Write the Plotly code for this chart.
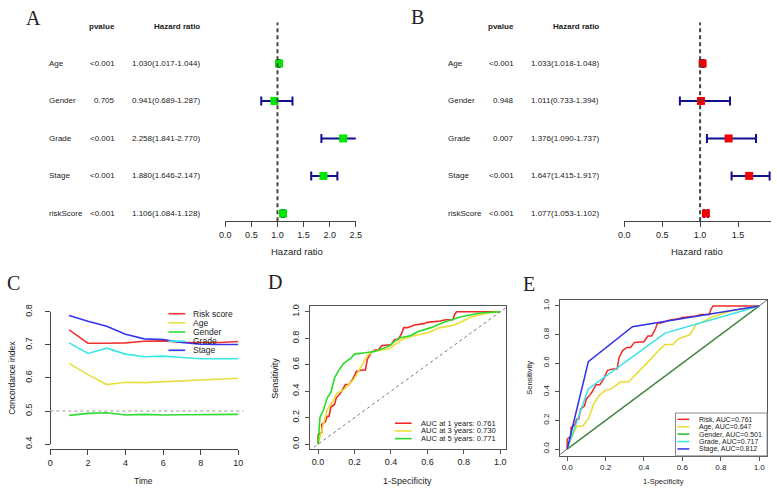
import plotly.graph_objects as go

W, H = 777, 492

# ---------------- data ----------------
factors = ["Age", "Gender", "Grade", "Stage", "riskScore"]
row_pos = [5, 4, 3, 2, 1]

uni_p = ["<0.001", "0.705", "<0.001", "<0.001", "<0.001"]
uni_hr = [1.030, 0.941, 2.258, 1.880, 1.106]
uni_lo = [1.017, 0.689, 1.841, 1.646, 1.084]
uni_hi = [1.044, 1.287, 2.770, 2.147, 1.128]

multi_p = ["<0.001", "0.948", "0.007", "<0.001", "<0.001"]
multi_hr = [1.033, 1.011, 1.376, 1.647, 1.077]
multi_lo = [1.018, 0.733, 1.090, 1.415, 1.053]
multi_hi = [1.048, 1.394, 1.737, 1.917, 1.102]

ticks_a = [0.0, 0.5, 1.0, 1.5, 2.0, 2.5]
ticks_b = [0.0, 0.5, 1.0, 1.5, 2.0]

years = [1, 2, 3, 4, 5, 6, 7, 8, 9, 10]
cidx_risk = [0.745, 0.705, 0.705, 0.706, 0.711, 0.712, 0.708, 0.707, 0.707, 0.710]
cidx_age = [0.644, 0.610, 0.580, 0.587, 0.586, 0.589, 0.592, 0.595, 0.596, 0.599]
cidx_gender = [0.487, 0.493, 0.495, 0.488, 0.490, 0.488, 0.489, 0.490, 0.490, 0.490]
cidx_grade = [0.706, 0.674, 0.690, 0.672, 0.664, 0.666, 0.662, 0.658, 0.658, 0.658]
cidx_stage = [0.789, 0.771, 0.756, 0.732, 0.718, 0.716, 0.707, 0.702, 0.701, 0.701]
c_names = ["Risk score", "Age", "Gender", "Grade", "Stage"]
c_ticks_x = [0, 2, 4, 6, 8, 10]
c_ticks_y = [0.4, 0.5, 0.6, 0.7, 0.8]

# ROC, risk score at 1 year (also used in panel E)
roc1_fpr = [0, 0, 0.02, 0.02, 0.04, 0.05, 0.06, 0.07, 0.09, 0.10, 0.12, 0.13, 0.15, 0.17,
            0.19, 0.20, 0.21, 0.24, 0.26, 0.27, 0.29, 0.31, 0.33, 0.35, 0.40, 0.42, 0.44,
            0.46, 0.47, 0.49, 0.53, 0.58, 0.60, 0.67, 0.70, 0.74, 0.75, 0.76, 1.0]
roc1_tpr = [0, 0.07, 0.09, 0.15, 0.17, 0.21, 0.21, 0.28, 0.30, 0.35, 0.38, 0.40, 0.45, 0.45,
            0.49, 0.52, 0.55, 0.56, 0.56, 0.64, 0.69, 0.71, 0.71, 0.745, 0.75, 0.79, 0.79,
            0.84, 0.88, 0.88, 0.90, 0.91, 0.92, 0.93, 0.94, 0.94, 0.98, 1.0, 1.0]
roc3_fpr = [0, 0.02, 0.05, 0.08, 0.10, 0.14, 0.19, 0.21, 0.24, 0.27, 0.30, 0.39, 0.46,
            0.53, 0.60, 0.67, 0.75, 0.84, 0.93, 1.0]
roc3_tpr = [0, 0.11, 0.26, 0.32, 0.38, 0.41, 0.48, 0.52, 0.60, 0.67, 0.70, 0.72, 0.79,
            0.82, 0.84, 0.88, 0.90, 0.96, 0.99, 1.0]
roc5_fpr = [0, 0.01, 0.03, 0.05, 0.07, 0.09, 0.11, 0.14, 0.18, 0.20, 0.26, 0.31, 0.39,
            0.44, 0.51, 0.55, 0.62, 0.69, 0.78, 0.89, 1.0]
roc5_tpr = [0, 0.20, 0.26, 0.35, 0.39, 0.50, 0.55, 0.61, 0.65, 0.68, 0.69, 0.70, 0.74,
            0.80, 0.82, 0.85, 0.88, 0.92, 0.96, 0.99, 1.0]
d_names = ["AUC at 1 years: 0.761", "AUC at 3 years: 0.730", "AUC at 5 years: 0.771"]

age_fpr = [0, 0.02, 0.05, 0.08, 0.11, 0.14, 0.17, 0.20, 0.23, 0.26, 0.28, 0.32, 0.35,
           0.38, 0.43, 0.47, 0.51, 0.55, 0.58, 0.62, 0.64, 0.67, 0.70, 0.75, 0.85, 1.0]
age_tpr = [0, 0.07, 0.16, 0.16, 0.21, 0.32, 0.38, 0.41, 0.42, 0.45, 0.47, 0.47, 0.51,
           0.55, 0.62, 0.68, 0.73, 0.73, 0.77, 0.79, 0.80, 0.87, 0.885, 0.92, 0.965, 1.0]
gender_fpr = [0, 1.0]
gender_tpr = [0, 1.0]
grade_fpr = [0, 0.11, 0.51, 1.0]
grade_tpr = [0, 0.42, 0.81, 1.0]
stage_fpr = [0, 0.11, 0.34, 1.0]
stage_tpr = [0, 0.61, 0.855, 1.0]
e_names = ["Risk, AUC=0.761", "Age, AUC=0.647", "Gender, AUC=0.501",
           "Grade, AUC=0.717", "Stage, AUC=0.812"]
roc_ticks = [0.0, 0.2, 0.4, 0.6, 0.8, 1.0]

# ---------------- helpers ----------------
FONT = "Liberation Sans, Arial, Helvetica, sans-serif"
SERIF = "Liberation Serif, Times New Roman, serif"
INK = "#222"
AXC = "#444"


def fx(p):
    return p / W


def fy(p):
    return 1 - p / H


def dom_x(a, b):
    return [a / W, b / W]


def dom_y(top, bottom):
    return [1 - bottom / H, 1 - top / H]


fig = go.Figure()
ann = []
shapes = []

# ---------------- forest plots (A, B) ----------------
GREEN = "#00E600"
RED = "#F00000"
EBAR = "#10108C"


def forest(xa, ya, hr, lo, hi, pv, color, x_label, x_p, x_hr):
    fig.add_trace(go.Scatter(
        x=hr, y=row_pos, mode="markers", xaxis=xa, yaxis=ya, showlegend=False,
        marker=dict(symbol="square", size=8, color=color),
        error_x=dict(type="data", symmetric=False,
                     array=[h - m for h, m in zip(hi, hr)],
                     arrayminus=[m - l for m, l in zip(hr, lo)],
                     color=EBAR, thickness=2, width=4.5),
        cliponaxis=False))
    for f, r, p, h, l, u in zip(factors, row_pos, pv, hr, lo, hi):
        for xpos, s, anchor in [(x_label, f, "left"), (x_p, p, "right"),
                                (x_hr, f"{h:.3f}({l:.3f}-{u:.3f})", "right")]:
            ann.append(dict(x=fx(xpos), y=r, xref="paper", yref=ya, text=s,
                            xanchor=anchor, yanchor="middle", showarrow=False,
                            font=dict(size=8, color=INK)))
    ann.append(dict(x=fx(x_p), y=fy(19), xref="paper", yref="paper", text="<b>pvalue</b>",
                    xanchor="right", yanchor="middle", showarrow=False,
                    font=dict(size=8, color=INK)))
    ann.append(dict(x=fx(x_hr), y=fy(19), xref="paper", yref="paper",
                    text="<b>Hazard ratio</b>", xanchor="right", yanchor="middle",
                    showarrow=False, font=dict(size=8, color=INK)))
    # reference line at HR = 1
    shapes.append(dict(type="line", xref=xa, yref=ya + " domain", x0=1, x1=1, y0=0, y1=1,
                       line=dict(color=AXC, width=2, dash="4px,3px")))


forest("x", "y", uni_hr, uni_lo, uni_hi, uni_p, GREEN, 42, 113, 199)
forest("x2", "y2", multi_hr, multi_lo, multi_hi, multi_p, RED, 447, 518, 604)

forest_y = dict(range=[0.792, 6.09], domain=dom_y(15, 219), visible=False, fixedrange=True)
tickfont = dict(size=9, color=INK, family=FONT)
open_axis = dict(showgrid=False, zeroline=False, showline=True, linecolor=AXC, linewidth=1,
                 ticks="outside", ticklen=5, tickcolor=AXC, tickfont=tickfont)

# ---------------- panel C ----------------
C_COLORS = ["#F03232", "#E6E040", "#30DC30", "#38E8E8", "#3434F0"]
c_series = [cidx_risk, cidx_age, cidx_gender, cidx_grade, cidx_stage]
shapes.append(dict(type="line", xref="paper", yref="y3", x0=fx(45), x1=fx(241), y0=0.5, y1=0.5,
                   line=dict(color="#BBBBBB", width=1.5, dash="dot")))
for name, vals, col in zip(c_names, c_series, C_COLORS):
    fig.add_trace(go.Scatter(x=years, y=vals, mode="lines", name=name, xaxis="x3", yaxis="y3",
                             line=dict(color=col, width=1.6), showlegend=False,
                             cliponaxis=False))
for i, (name, col) in enumerate(zip(c_names, C_COLORS)):
    yy = 314 + 9.4 * i
    shapes.append(dict(type="line", xref="paper", yref="paper", x0=fx(165), x1=fx(182),
                       y0=fy(yy), y1=fy(yy), line=dict(color=col, width=1.6)))
    ann.append(dict(x=fx(188), y=fy(yy), xref="paper", yref="paper", text=name,
                    xanchor="left", yanchor="middle", showarrow=False,
                    font=dict(size=8.5, color=INK)))

# ---------------- panel D ----------------
D_COLORS = ["#F02828", "#E8E030", "#28DC28"]
shapes.append(dict(type="line", xref="x4", yref="y4", x0=-0.05, x1=1.05, y0=-0.05, y1=1.05,
                   line=dict(color="#777", width=1, dash="dot")))
for name, xs, ys, col in zip(d_names, [roc1_fpr, roc3_fpr, roc5_fpr],
                             [roc1_tpr, roc3_tpr, roc5_tpr], D_COLORS):
    fig.add_trace(go.Scatter(x=xs, y=ys, mode="lines", name=name, xaxis="x4", yaxis="y4",
                             line=dict(color=col, width=1.6), showlegend=False))
for i, (name, col) in enumerate(zip(d_names, D_COLORS)):
    yy = 426.5 + 7.9 * i
    shapes.append(dict(type="line", xref="paper", yref="paper", x0=fx(395), x1=fx(412),
                       y0=fy(yy), y1=fy(yy), line=dict(color=col, width=1.6)))
    ann.append(dict(x=fx(419), y=fy(yy), xref="paper", yref="paper", text=name,
                    xanchor="left", yanchor="middle", showarrow=False,
                    font=dict(size=7.6, color=INK)))

# ---------------- panel E ----------------
E_COLORS = ["#F02828", "#E8DC28", "#2EB82E", "#38E0E8", "#3232E6"]
shapes.append(dict(type="line", xref="x5", yref="y5", x0=-0.05, x1=1.05, y0=-0.05, y1=1.05,
                   line=dict(color="#666", width=1)))
for name, xs, ys, col in zip(e_names,
                             [roc1_fpr, age_fpr, gender_fpr, grade_fpr, stage_fpr],
                             [roc1_tpr, age_tpr, gender_tpr, grade_tpr, stage_tpr], E_COLORS):
    fig.add_trace(go.Scatter(x=xs, y=ys, mode="lines", name=name, xaxis="x5", yaxis="y5",
                             line=dict(color=col, width=1.5), showlegend=False))
shapes.append(dict(type="rect", xref="paper", yref="paper", x0=fx(680), x1=fx(773),
                   y0=fy(460), y1=fy(416), line=dict(color="#888", width=1)))
for i, (name, col) in enumerate(zip(e_names, E_COLORS)):
    yy = 422.5 + 7.6 * i
    shapes.append(dict(type="line", xref="paper", yref="paper", x0=fx(682), x1=fx(694),
                       y0=fy(yy), y1=fy(yy), line=dict(color=col, width=1.5)))
    ann.append(dict(x=fx(702), y=fy(yy), xref="paper", yref="paper", text=name,
                    xanchor="left", yanchor="middle", showarrow=False,
                    font=dict(size=7, color=INK)))


# ---------------- titles / letters ----------------
def text(x, y, s, size, angle=0, family=FONT):
    ann.append(dict(x=fx(x), y=fy(y), xref="paper", yref="paper", text=s, textangle=angle,
                    xanchor="center", yanchor="middle", showarrow=False,
                    font=dict(size=size, color=INK, family=family)))


text(296, 250, "Hazard ratio", 9.5)
text(702, 250, "Hazard ratio", 9.5)
text(6, 380, "Concordance index", 8.5, -90)
text(140, 486, "Time", 8.5)
text(273, 380, "Sensitivity", 9, -90)
text(408, 486, "1-Specificity", 9)
text(532, 380, "Sensitivity", 7.5, -90)
text(668, 486, "1-Specificity", 7.5)
for letter, x, y in [("A", 28, 10), ("B", 418, 9), ("C", 8, 282), ("D", 273, 281), ("E", 531, 283)]:
    text(x, y, letter, 20, family=SERIF)

box = dict(showgrid=False, zeroline=False, showline=True, mirror=True, linecolor="#555",
           linewidth=1, ticks="outside", ticklen=4, tickcolor="#555")

fig.update_layout(
    width=W, height=H, margin=dict(l=0, r=0, t=0, b=0),
    paper_bgcolor="white", plot_bgcolor="white",
    font=dict(family=FONT, color=INK),
    showlegend=False,
    # A: axis line spans exactly the tick range 0..2.5
    xaxis=dict(domain=dom_x(222.7, 355.3), range=[ticks_a[0], ticks_a[-1]], anchor="y",
               tickvals=ticks_a, ticktext=[f"{t:.1f}" for t in ticks_a], **open_axis),
    yaxis=dict(anchor="x", **forest_y),
    xaxis2=dict(domain=dom_x(628, 777), range=[0, 149 / 77], anchor="y2",
                tickvals=ticks_b, ticktext=[f"{t:.1f}" for t in ticks_b], **open_axis),
    yaxis2=dict(anchor="x2", **forest_y),
    # C: R-style detached axes
    xaxis3=dict(domain=dom_x(45, 236), range=[c_ticks_x[0], c_ticks_x[-1]], anchor="free",
                position=fy(453), tickvals=c_ticks_x, **open_axis),
    yaxis3=dict(domain=dom_y(312, 448), range=[c_ticks_y[0], c_ticks_y[-1]], anchor="free",
                position=fx(45), tickvals=c_ticks_y,
                ticktext=[f"{t:.1f}" for t in c_ticks_y], tickangle=-90,
                ticklabelstandoff=10, **open_axis),
    xaxis4=dict(domain=dom_x(309, 508), range=[-0.0432, 1.0324], anchor="y4",
                tickvals=roc_ticks, ticktext=[f"{t:.1f}" for t in roc_ticks],
                tickfont=dict(size=9, color=INK), **box),
    yaxis4=dict(domain=dom_y(306, 453), range=[-0.0368, 1.044], anchor="x4",
                tickvals=roc_ticks, ticktext=[f"{t:.1f}" for t in roc_ticks], tickangle=-90,
                tickfont=dict(size=9, color=INK), ticklabelstandoff=3, **box),
    xaxis5=dict(domain=dom_x(563, 773), range=[-0.0359, 1.041], anchor="y5",
                tickvals=roc_ticks, ticktext=[f"{t:.1f}" for t in roc_ticks],
                tickfont=dict(size=8, color=INK), **box),
    yaxis5=dict(domain=dom_y(300, 460), range=[-0.0476, 1.0408], anchor="x5",
                tickvals=roc_ticks, ticktext=[f"{t:.1f}" for t in roc_ticks], tickangle=-90,
                tickfont=dict(size=8, color=INK), ticklabelstandoff=3, **box),
    annotations=ann,
    shapes=shapes,
)

fig.write_html("out.html", config={"displayModeBar": False},
               post_script="document.body.style.margin='0';document.body.style.padding='0';"
                           "document.documentElement.style.overflow='hidden';")
